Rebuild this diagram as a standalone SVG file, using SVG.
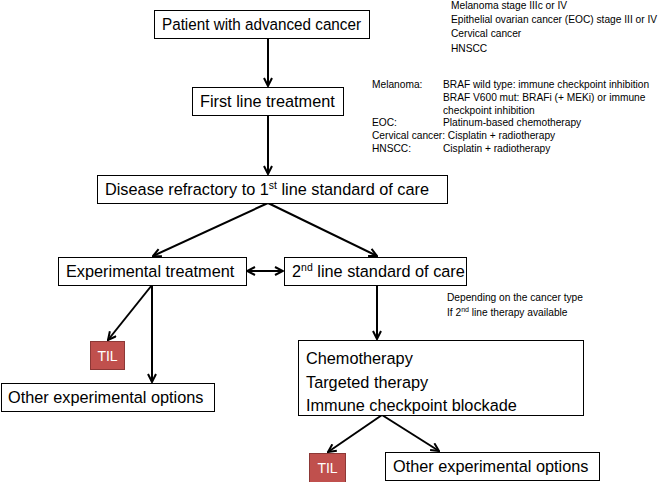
<svg xmlns="http://www.w3.org/2000/svg" width="667" height="482" viewBox="0 0 667 482">
<style>
.box{fill:#fff;stroke:#000;stroke-width:1}
.til{fill:#c0504d;stroke:#8c3836;stroke-width:1}
.t{font-family:"Liberation Sans",Arial,sans-serif;font-size:16.3px;fill:#000}
.tw{font-family:"Liberation Sans",Arial,sans-serif;font-size:14px;fill:#fff}
.n{font-family:"Liberation Sans",Arial,sans-serif;font-size:10.2px;fill:#000}
.c{stroke:#000;stroke-width:2;fill:none}
</style>
<defs>
<marker id="ah" viewBox="0 0 10 10" refX="9" refY="5" markerWidth="5" markerHeight="5" orient="auto-start-reverse" markerUnits="strokeWidth">
<path d="M1,1 L9,5 L1,9" fill="none" stroke="#000" stroke-width="2"/>
</marker>
</defs>
<g id="connectors">
<line class="c" x1="268" y1="39" x2="268" y2="86" marker-end="url(#ah)"/>
<line class="c" x1="268" y1="115" x2="268" y2="174" marker-end="url(#ah)"/>
<line class="c" x1="268" y1="203" x2="153" y2="256" marker-end="url(#ah)"/>
<line class="c" x1="268" y1="203" x2="377" y2="256" marker-end="url(#ah)"/>
<line class="c" x1="247" y1="271" x2="283" y2="271" marker-start="url(#ah)" marker-end="url(#ah)"/>
<line class="c" x1="152" y1="285" x2="108" y2="340" marker-end="url(#ah)"/>
<line class="c" x1="152" y1="285" x2="152" y2="382" marker-end="url(#ah)"/>
<line class="c" x1="377" y1="285" x2="377" y2="339" marker-end="url(#ah)"/>
<line class="c" x1="382" y1="415" x2="328" y2="452" marker-end="url(#ah)"/>
<line class="c" x1="382" y1="415" x2="439" y2="451" marker-end="url(#ah)"/>
</g>
<g id="n1"><rect class="box" x="154.5" y="10.5" width="215" height="28"/><text class="t" x="162" y="30" textLength="199" lengthAdjust="spacingAndGlyphs">Patient with advanced cancer</text></g>
<g id="n2"><rect class="box" x="192.5" y="87.5" width="151" height="28"/><text class="t" x="200" y="107">First line treatment</text></g>
<g id="n3"><rect class="box" x="97.5" y="175.5" width="350" height="28"/><text class="t" x="105" y="195">Disease refractory to 1<tspan font-size="10.5" dy="-6">st</tspan><tspan dy="6"> line standard of care</tspan></text></g>
<g id="n4"><rect class="box" x="58.5" y="257.5" width="188" height="28"/><text class="t" x="66" y="277">Experimental treatment</text></g>
<g id="n5"><rect class="box" x="284.5" y="257.5" width="182" height="28"/><text class="t" x="292" y="277">2<tspan font-size="10.5" dy="-6">nd</tspan><tspan dy="6"> line standard of care</tspan></text></g>
<g id="n6"><rect class="til" x="90.5" y="341.5" width="34" height="28"/><text class="tw" x="107.5" y="361" text-anchor="middle">TIL</text></g>
<g id="n7"><rect class="box" x="1.5" y="383.5" width="213" height="28"/><text class="t" x="8" y="403">Other experimental options</text></g>
<g id="n8"><rect class="box" x="298.5" y="340.5" width="285" height="75"/>
<text class="t" x="306" y="364">Chemotherapy</text>
<text class="t" x="306" y="388">Targeted therapy</text>
<text class="t" x="306" y="411">Immune checkpoint blockade</text></g>
<g id="n9"><rect class="til" x="309.5" y="453.5" width="36" height="30"/><text class="tw" x="327.5" y="473" text-anchor="middle">TIL</text></g>
<g id="n10"><rect class="box" x="385.5" y="452.5" width="214" height="28"/><text class="t" x="393" y="472">Other experimental options</text></g>
<g id="notes">
<text class="n" x="451" y="9">Melanoma stage IIIc or IV</text>
<text class="n" x="451" y="23">Epithelial ovarian cancer (EOC) stage III or IV</text>
<text class="n" x="451" y="37">Cervical cancer</text>
<text class="n" x="451" y="52">HNSCC</text>
<text class="n" x="372" y="88">Melanoma:</text>
<text class="n" x="443" y="88">BRAF wild type: immune checkpoint inhibition</text>
<text class="n" x="443" y="101">BRAF V600 mut: BRAFi (+ MEKi) or immune</text>
<text class="n" x="443" y="114">checkpoint inhibition</text>
<text class="n" x="372" y="126">EOC:</text>
<text class="n" x="443" y="126">Platinum-based chemotherapy</text>
<text class="n" x="372" y="139">Cervical cancer: Cisplatin + radiotherapy</text>
<text class="n" x="372" y="152">HNSCC:</text>
<text class="n" x="443" y="152">Cisplatin + radiotherapy</text>
<text class="n" x="447" y="301">Depending on the cancer type</text>
<text class="n" x="447" y="316">If  2<tspan font-size="7" dy="-4">nd</tspan><tspan dy="4"> line therapy available</tspan></text>
</g>
</svg>
